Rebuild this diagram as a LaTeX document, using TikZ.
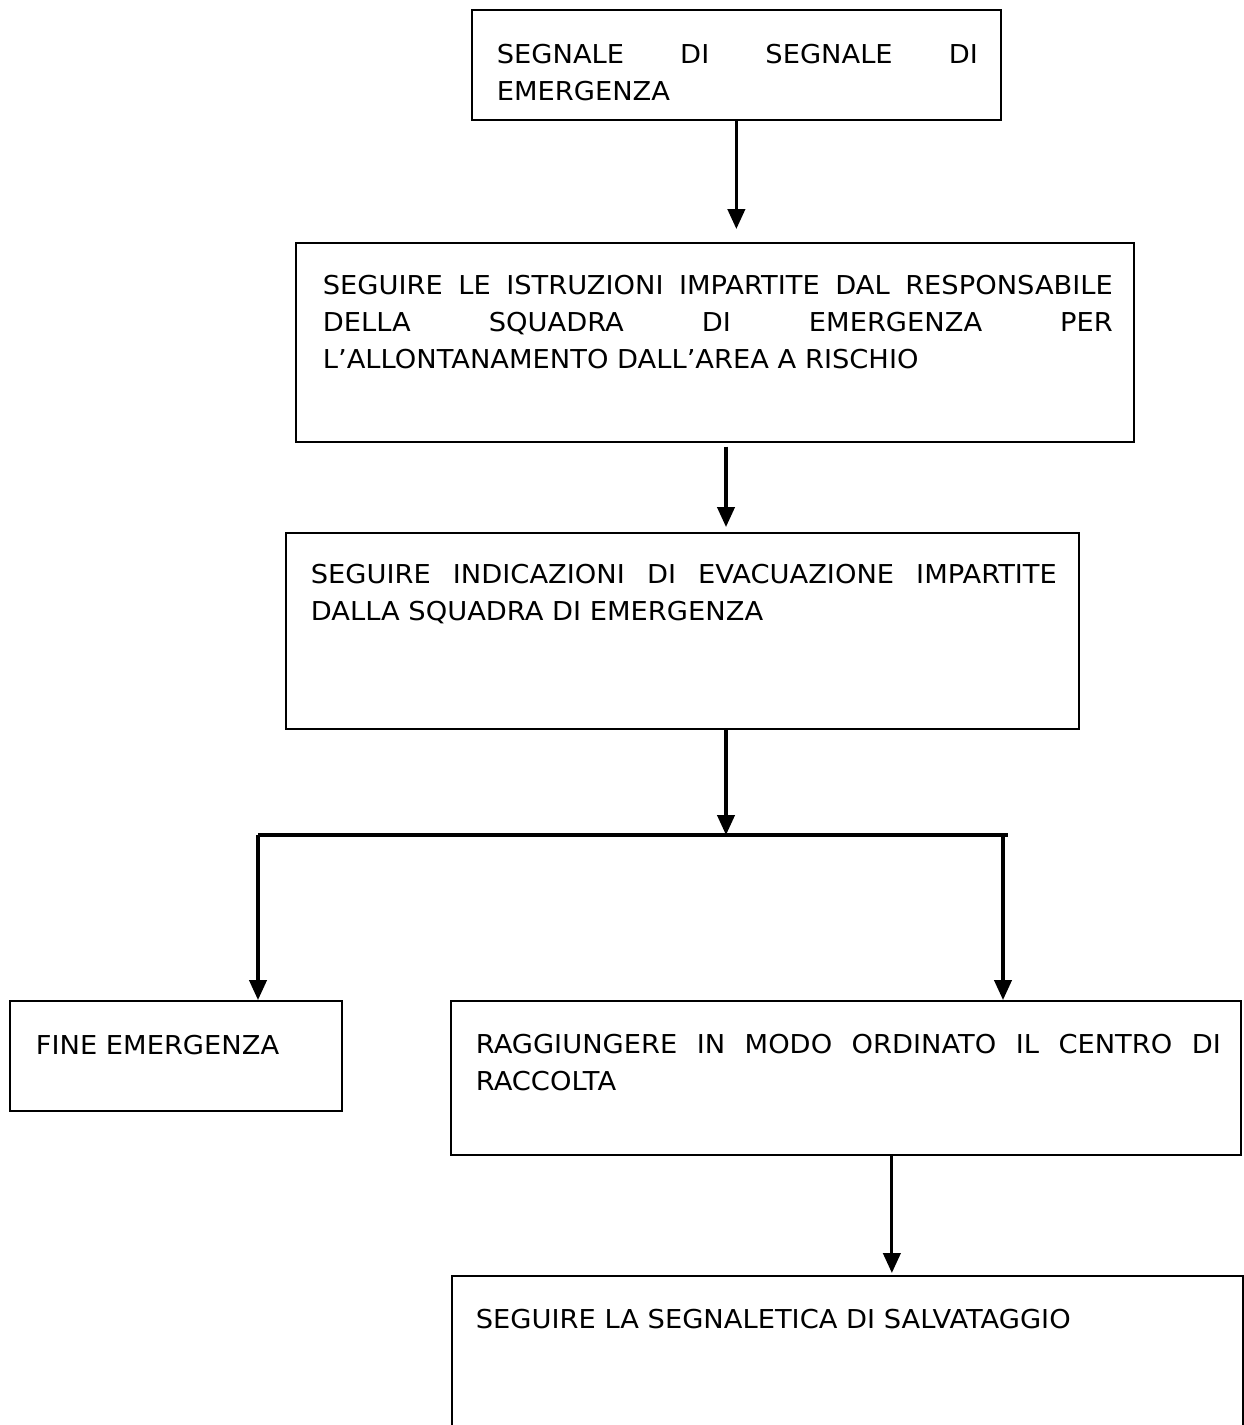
\documentclass[tikz,border=0pt]{standalone}
\usepackage{fontspec}
\setmainfont{DejaVu Sans}[FakeStretch=1.05]
\usetikzlibrary{arrows.meta, positioning}

\newdimen\pxu \pxu=0.75pt
% box text: width, height, top gap, left pad, right pad, text
\newcommand{\steptext}[6]{%
  \parbox[c][#2\pxu][t]{#1\pxu}{\vspace*{#3\pxu}%
    \leftskip=#4\pxu \rightskip=#5\pxu \relax
    \tolerance=10000 \hbadness=10000 \hyphenpenalty=10000
    \fontsize{19.5pt}{27.75pt}\selectfont #6}}

\begin{document}
\begin{tikzpicture}[
  x=0.75pt, y=-0.75pt,
  stepbox/.style={draw=black, line width=1.3pt, rectangle, inner sep=0pt, anchor=north west},
  flowline/.style={line width=2.4pt},
  flowarrow/.style={line width=2.4pt, -{Triangle[length=15pt, width=13pt]}}
]
\useasboundingbox (0,0) rectangle (1244,1425);
\clip (0,0) rectangle (1244,1425);

\node[stepbox] (sig) at (471,9)
  {\steptext{529}{110}{34}{25}{23}{SEGNALE DI SEGNALE DI\linebreak EMERGENZA}};
\node[stepbox] (istr) at (295,242)
  {\steptext{838}{199}{32}{27}{21}{SEGUIRE LE ISTRUZIONI IMPARTITE DAL RESPONSABILE\linebreak
   DELLA SQUADRA DI EMERGENZA PER\linebreak L’ALLONTANAMENTO DALL’AREA A RISCHIO}};
\node[stepbox] (evac) at (285,532)
  {\steptext{793}{196}{31}{25}{22}{SEGUIRE INDICAZIONI DI EVACUAZIONE IMPARTITE\linebreak
   DALLA SQUADRA DI EMERGENZA}};
\node[stepbox] (fine) at (9,1000)
  {\steptext{332}{110}{34}{26}{10}{FINE EMERGENZA}};
\node[stepbox] (ragg) at (450,1000)
  {\steptext{790}{154}{33}{25}{20}{RAGGIUNGERE IN MODO ORDINATO IL CENTRO DI\linebreak RACCOLTA}};
\node[stepbox] (salv) at (451,1275)
  {\steptext{791}{230}{33}{24}{20}{SEGUIRE LA SEGNALETICA DI SALVATAGGIO}};

% split point under the evacuation box
\coordinate (split) at (726,835);
\coordinate (splitL) at (258,835);
\coordinate (splitR) at (1003,835);
\coordinate (splitEnd) at (1008,835);
\coordinate (gather) at ([xshift=34.5pt]ragg.south);

\draw[flowarrow, shorten >=9.75pt] (sig.south) -- (sig.south |- istr.north);
\draw[flowarrow, shorten <=3pt, shorten >=3.75pt] (istr.south -| split) -- (split |- evac.north);
\draw[flowarrow] (evac.south -| split) -- (split);
\draw[flowline] (splitL) -- (splitEnd);
\draw[flowarrow] (splitL) -- (splitL |- fine.north);
\draw[flowarrow] (splitR) -- (splitR |- ragg.north);
\draw[flowarrow, shorten >=1.5pt] (gather) -- (gather |- salv.north);

\end{tikzpicture}
\end{document}
